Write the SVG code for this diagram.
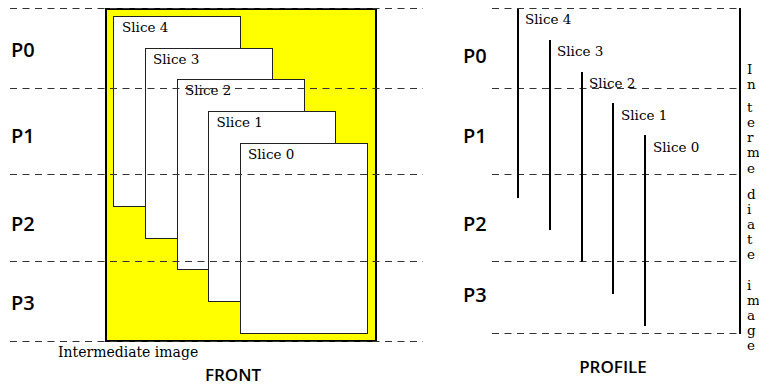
<svg xmlns="http://www.w3.org/2000/svg" width="759" height="387" viewBox="0 0 759 387">
<style>
.serif{font-family:"DejaVu Serif","Liberation Serif",serif;font-size:13.5px;fill:#000}
.lbl{font-family:"Open Sans","Noto Sans","DejaVu Sans",sans-serif;font-weight:600;font-size:20px;fill:#000}
.title{font-family:"Open Sans","Noto Sans","DejaVu Sans",sans-serif;font-weight:600;font-size:17px;fill:#000;text-anchor:middle}
.slice{fill:#fff;stroke:#222;stroke-width:1}
.dash{stroke:#333;stroke-width:1;stroke-dasharray:7 5.5;fill:none}
.bar{stroke:#000;stroke-width:2;fill:none}
</style>
<rect x="0" y="0" width="759" height="387" fill="#fff"/>
<g id="front">
  <rect id="intermediate" x="106" y="9" width="270" height="332" fill="#ffff00" stroke="#000" stroke-width="2"/>
  <g id="front-slice4"><rect class="slice" x="113.5" y="16.5" width="127" height="190"/><text class="serif" x="122" y="32">Slice 4</text></g>
  <g id="front-slice3"><rect class="slice" x="145.5" y="48.5" width="127" height="190"/><text class="serif" x="153" y="63.5">Slice 3</text></g>
  <g id="front-slice2"><rect class="slice" x="177.5" y="79.5" width="127" height="190"/><text class="serif" x="185" y="95">Slice 2</text></g>
  <g id="front-slice1"><rect class="slice" x="208.5" y="111.5" width="127" height="190"/><text class="serif" x="216.5" y="127">Slice 1</text></g>
  <g id="front-slice0"><rect class="slice" x="240.5" y="143.5" width="127" height="190"/><text class="serif" x="248" y="159">Slice 0</text></g>
  <text class="serif" x="58" y="357" style="font-size:14px">Intermediate image</text>
  <text class="title" x="233" y="381">FRONT</text>
</g>
<g id="connectors">
  <path class="dash" d="M10 8.5H423M10 88.5H423M10 174.5H423M10 261.5H423M10 341.5H423"/>
  <path class="dash" d="M492 8.5H740M492 88.5H740M492 174.5H740M492 261.5H740M492 333.5H740"/>
</g>
<g id="labels-left">
  <text class="lbl" x="11" y="57">P0</text>
  <text class="lbl" x="11" y="143">P1</text>
  <text class="lbl" x="11" y="231">P2</text>
  <text class="lbl" x="11" y="310">P3</text>
</g>
<g id="profile">
  <g id="profile-slice4"><path class="bar" d="M518 9V198"/><text class="serif" x="525" y="24">Slice 4</text></g>
  <g id="profile-slice3"><path class="bar" d="M550 40V230"/><text class="serif" x="557" y="56">Slice 3</text></g>
  <g id="profile-slice2"><path class="bar" d="M582 72V262"/><text class="serif" x="589" y="88">Slice 2</text></g>
  <g id="profile-slice1"><path class="bar" d="M613 103V294"/><text class="serif" x="621" y="120">Slice 1</text></g>
  <g id="profile-slice0"><path class="bar" d="M645 135V326"/><text class="serif" x="653" y="152">Slice 0</text></g>
  <g id="profile-image"><path class="bar" d="M740 8V334"/>
    <text class="serif" x="747">
      <tspan x="747" y="74">I</tspan><tspan x="747" y="89">n</tspan>
      <tspan x="747" y="112">t</tspan><tspan x="747" y="127">e</tspan><tspan x="747" y="142">r</tspan><tspan x="747" y="157">m</tspan><tspan x="747" y="173">e</tspan>
      <tspan x="747" y="199">d</tspan><tspan x="747" y="214">i</tspan><tspan x="747" y="229">a</tspan><tspan x="747" y="244">t</tspan><tspan x="747" y="259">e</tspan>
      <tspan x="747" y="290">i</tspan><tspan x="747" y="305">m</tspan><tspan x="747" y="320">a</tspan><tspan x="747" y="335">g</tspan><tspan x="747" y="350">e</tspan>
    </text>
  </g>
  <text class="lbl" x="463" y="63">P0</text>
  <text class="lbl" x="463" y="143">P1</text>
  <text class="lbl" x="463" y="231">P2</text>
  <text class="lbl" x="463" y="302">P3</text>
  <text class="title" x="613" y="373">PROFILE</text>
</g>
</svg>
